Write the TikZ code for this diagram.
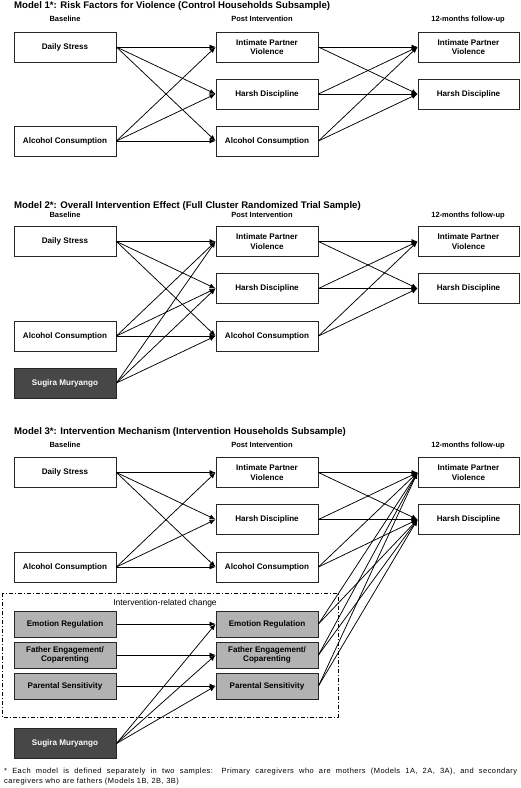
\documentclass[tikz,border=0pt]{standalone}
\usepackage{fontspec}
\setmainfont{Liberation Sans}
\newfontfamily\fnfont{Liberation Sans}[LetterSpace=6]
\usetikzlibrary{arrows.meta}
\begin{document}
\begin{tikzpicture}[x=1pt,y=-1pt,
 box/.style={draw=black!85,line width=0.9pt,fill=white,minimum width=102pt,minimum height=30pt,align=center,font=\bfseries\fontsize{8.1}{9.7}\selectfont,inner sep=1pt},
 gbox/.style={box,fill=black!30,minimum height=26pt},
 dbox/.style={box,fill=black!72,text=white},
 hdr/.style={font=\bfseries\fontsize{7.5}{9}\selectfont,inner sep=0pt},
 ttl/.style={font=\bfseries\fontsize{9.6}{11}\selectfont,anchor=west,inner sep=0pt},
 arr/.style={-{Latex[length=6pt,width=5pt]},line width=0.75pt}]
\useasboundingbox[fill=white] (0,0) rectangle (520,788);

% ---------- Model 1 ----------
\node[ttl] (t1) at (14,6) {Model 1*: Risk Factors for Violence (Control Households Subsample)};
\node[hdr] (h1a) at (65,19) {Baseline};
\node[hdr] (h1b) at (262,19) {Post Intervention};
\node[hdr] (h1c) at (468,20) {12-months follow-up};
\node[box] (a1) at (65,47) {Daily Stress};
\node[box] (b1) at (65,141) {Alcohol Consumption};
\node[box] (m1) at (267,47) {Intimate Partner\\Violence};
\node[box] (n1) at (267,94) {Harsh Discipline};
\node[box] (o1) at (267,141) {Alcohol Consumption};
\node[box,minimum width=101pt] (r1) at (468.5,47) {Intimate Partner\\Violence};
\node[box,minimum width=101pt] (s1) at (468.5,94) {Harsh Discipline};
\foreach \s in {a1,b1} \foreach \t in {m1,n1,o1} \draw[arr] (\s.east) -- (\t.west);
\foreach \s in {m1,n1,o1} \foreach \t in {r1,s1} \draw[arr] (\s.east) -- (\t.west);

% ---------- Model 2 ----------
\node[ttl] (t2) at (14,206) {Model 2*: Overall Intervention Effect (Full Cluster Randomized Trial Sample)};
\node[hdr] (h2a) at (65,215) {Baseline};
\node[hdr] (h2b) at (262,215) {Post Intervention};
\node[hdr] (h2c) at (468,216) {12-months follow-up};
\node[box] (a2) at (65,241.5) {Daily Stress};
\node[box] (b2) at (65,336) {Alcohol Consumption};
\node[dbox] (c2) at (65,383) {Sugira Muryango};
\node[box] (m2) at (267,241.5) {Intimate Partner\\Violence};
\node[box] (n2) at (267,288.5) {Harsh Discipline};
\node[box] (o2) at (267,336) {Alcohol Consumption};
\node[box,minimum width=101pt] (r2) at (468.5,241.5) {Intimate Partner\\Violence};
\node[box,minimum width=101pt] (s2) at (468.5,288.5) {Harsh Discipline};
\foreach \s in {a2,b2,c2} \foreach \t in {m2,n2,o2} \draw[arr] (\s.east) -- (\t.west);
\foreach \s in {m2,n2,o2} \foreach \t in {r2,s2} \draw[arr] (\s.east) -- (\t.west);

% ---------- Model 3 ----------
\node[ttl] (t3) at (14,432) {Model 3*: Intervention Mechanism (Intervention Households Subsample)};
\node[hdr] (h3a) at (65,445) {Baseline};
\node[hdr] (h3b) at (262,445) {Post Intervention};
\node[hdr] (h3c) at (468,446) {12-months follow-up};
\draw[dash pattern=on 4pt off 2pt on 1pt off 2pt,line width=0.8pt] (2,593) rectangle (338,717);
\node[font=\fontsize{8.5}{10}\selectfont,inner sep=0pt] (ir) at (165,603) {Intervention-related change};
\node[box] (a3) at (65,472.5) {Daily Stress};
\node[box] (b3) at (65,567) {Alcohol Consumption};
\node[gbox] (e3) at (65,624) {Emotion Regulation};
\node[gbox] (f3) at (65,655) {Father Engagement/\\Coparenting};
\node[gbox] (p3) at (65,686) {Parental Sensitivity};
\node[dbox] (c3) at (65,743.5) {Sugira Muryango};
\node[box] (m3) at (267,472.5) {Intimate Partner\\Violence};
\node[box] (n3) at (267,519.5) {Harsh Discipline};
\node[box] (o3) at (267,567) {Alcohol Consumption};
\node[gbox] (e3b) at (267,624) {Emotion Regulation};
\node[gbox] (f3b) at (267,655) {Father Engagement/\\Coparenting};
\node[gbox] (p3b) at (267,686) {Parental Sensitivity};
\node[box,minimum width=101pt] (r3) at (468.5,472.5) {Intimate Partner\\Violence};
\node[box,minimum width=101pt] (s3) at (468.5,519.5) {Harsh Discipline};
\foreach \s in {a3,b3} \foreach \t in {m3,n3,o3} \draw[arr] (\s.east) -- (\t.west);
\draw[arr] (e3.east) -- (e3b.west);
\draw[arr] (f3.east) -- (f3b.west);
\draw[arr] (p3.east) -- (p3b.west);
\foreach \t in {e3b,f3b,p3b} \draw[arr] (c3.east) -- (\t.west);
\foreach \s in {m3,n3,o3,e3b,f3b,p3b} \foreach \t in {r3,s3} \draw[arr] (\s.east) -- (\t.west);

% ---------- Footnote ----------
\node[anchor=north west,inner sep=0pt,text width=513pt,align=justify,font=\fnfont\fontsize{7.5}{10}\selectfont] (fn) at (4,767.5)
 {* Each model is defined separately in two samples: Primary caregivers who are mothers (Models 1A, 2A, 3A), and secondary\linebreak caregivers who are fathers (Models 1B, 2B, 3B)};
\end{tikzpicture}
\end{document}
